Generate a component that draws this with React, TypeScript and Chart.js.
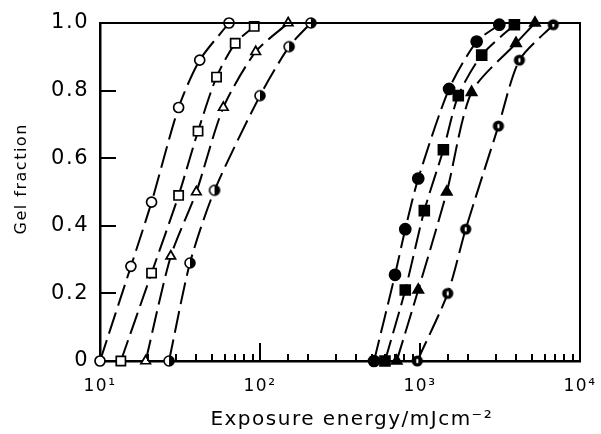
import React, { useEffect, useRef } from "react";
import { Chart, registerables } from "chart.js";

Chart.register(...registerables);

// Exposure energy (mJ cm^-2) and gel fraction for each curve
const energyOpenCircle = [10, 15.6, 21, 31, 42, 64];
const gelOpenCircle = [0, 0.28, 0.47, 0.75, 0.89, 1.0];

const energyOpenSquare = [13.5, 21, 31, 41, 53.5, 70, 92];
const gelOpenSquare = [0, 0.26, 0.49, 0.68, 0.84, 0.94, 0.99];

const energyOpenTriangle = [19.3, 27.7, 40, 59, 94, 150];
const gelOpenTriangle = [0, 0.31, 0.5, 0.75, 0.915, 1.0];

const energyHalfCircleA = [27, 36.5, 52, 100, 152, 208];
const gelHalfCircleA = [0, 0.29, 0.505, 0.785, 0.93, 1.0];

const energyFilledCircle = [516, 698, 809, 975, 1520, 2260, 3130];
const gelFilledCircle = [0, 0.255, 0.39, 0.54, 0.805, 0.945, 0.995];

const energyFilledSquare = [604, 809, 1064, 1400, 1735, 2430, 3890];
const gelFilledSquare = [0, 0.21, 0.445, 0.625, 0.785, 0.905, 0.995];

const energyFilledTriangle = [715, 975, 1470, 2100, 3980, 5230];
const gelFilledTriangle = [0, 0.21, 0.5, 0.795, 0.94, 1.0];

const energyHalfCircleB = [962, 1490, 1930, 3090, 4180, 6810];
const gelHalfCircleB = [0, 0.2, 0.39, 0.695, 0.89, 0.995];

const xMin = 10;
const xMax = 10000;
const yMin = 0;
const yMax = 1;
const yStep = 0.2;
const superscripts = ["⁰", "¹", "²", "³", "⁴"];
const xTitle = "\u00a0\u00a0\u00a0Exposure energy/mJcm⁻²";
const yTitle = "\u00a0\u00a0\u00a0\u00a0Gel fraction";

const FONT = "'DejaVu Sans', sans-serif";

function pts(xs: number[], ys: number[]) {
  return xs.map((x, i) => ({ x, y: ys[i] }));
}

function makeHalfCircle(): HTMLCanvasElement {
  const c = document.createElement("canvas");
  c.width = 14;
  c.height = 14;
  const g = c.getContext("2d")!;
  g.fillStyle = "#fff";
  g.beginPath();
  g.arc(7, 7, 5, 0, Math.PI * 2);
  g.fill();
  g.fillStyle = "#000";
  g.beginPath();
  g.arc(7, 7, 5, -Math.PI / 2, Math.PI / 2);
  g.closePath();
  g.fill();
  g.strokeStyle = "#000";
  g.lineWidth = 1.6;
  g.beginPath();
  g.arc(7, 7, 5, 0, Math.PI * 2);
  g.stroke();
  return c;
}

function makeSlitCircle(): HTMLCanvasElement {
  const c = document.createElement("canvas");
  c.width = 14;
  c.height = 14;
  const g = c.getContext("2d")!;
  g.fillStyle = "#000";
  g.beginPath();
  g.arc(7, 7, 5.6, 0, Math.PI * 2);
  g.fill();
  g.fillStyle = "#fff";
  g.beginPath();
  g.ellipse(7, 7, 1.1, 2.6, 0, 0, Math.PI * 2);
  g.fill();
  return c;
}

function drawFrameAndTicks(chart: any) {
  const ctx: CanvasRenderingContext2D = chart.ctx;
  const xs = chart.scales.x;
  const ys = chart.scales.y;
  const L = Math.round(xs.getPixelForValue(xMin));
  const R = Math.round(xs.getPixelForValue(xMax));
  const T = Math.round(ys.getPixelForValue(yMax));
  const B = Math.round(ys.getPixelForValue(yMin));
  ctx.save();
  ctx.fillStyle = "#000";
  // top and right frame
  ctx.fillRect(L, T - 1, R - L + 1, 2);
  ctx.fillRect(R - 1, T - 1, 2, B - T + 2);
  // inward y ticks
  for (const t of ys.ticks) {
    const v = t.value;
    if (v <= yMin + 1e-9 || v >= yMax - 1e-9) continue;
    const py = Math.round(ys.getPixelForValue(v));
    ctx.fillRect(L, py - 1, 16, 2);
  }
  // inward x ticks
  for (const t of xs.ticks) {
    const v = t.value;
    if (v <= xMin || v >= xMax) continue;
    const l = Math.log10(v);
    const major = Math.abs(l - Math.round(l)) < 1e-9;
    const px = Math.round(xs.getPixelForValue(v));
    const len = major ? 18 : 7;
    ctx.fillRect(px - 1, B - len, 2, len);
  }
  ctx.restore();
}

const framePlugin = {
  id: "frameTicks",
  beforeUpdate(chart: any) {
    chart.ctx.letterSpacing = "1.5px";
  },
  afterDraw(chart: any) {
    drawFrameAndTicks(chart);
  },
};

export default function App() {
  const ref = useRef<HTMLCanvasElement>(null);

  useEffect(() => {
    if (!ref.current) return;
    const half = makeHalfCircle();
    const slit = makeSlitCircle();
    const base = {
      borderColor: "#000",
      borderWidth: 2,
      borderDash: [22, 7],
      tension: 0.25,
      pointBorderColor: "#000",
      pointBorderWidth: 1.7,
      clip: false as const,
      fill: false,
    };
    const chart = new Chart(ref.current, {
      type: "line",
      data: {
        datasets: [
          { ...base, label: "A", data: pts(energyOpenCircle, gelOpenCircle), pointStyle: "circle", pointRadius: 5, pointBackgroundColor: "#fff" },
          { ...base, label: "B", data: pts(energyOpenSquare, gelOpenSquare), pointStyle: "rect", pointRadius: 6.5, pointBackgroundColor: "#fff" },
          { ...base, label: "C", data: pts(energyOpenTriangle, gelOpenTriangle), pointStyle: "triangle", pointRadius: 5.5, pointBackgroundColor: "#fff" },
          { ...base, label: "D", data: pts(energyHalfCircleA, gelHalfCircleA), pointStyle: half, pointRadius: 6 },
          { ...base, label: "E", data: pts(energyFilledCircle, gelFilledCircle), pointStyle: "circle", pointRadius: 5.5, pointBackgroundColor: "#000" },
          { ...base, label: "F", data: pts(energyFilledSquare, gelFilledSquare), pointStyle: "rect", pointRadius: 7, pointBackgroundColor: "#000" },
          { ...base, label: "G", data: pts(energyFilledTriangle, gelFilledTriangle), pointStyle: "triangle", pointRadius: 6, pointBackgroundColor: "#000" },
          { ...base, label: "H", data: pts(energyHalfCircleB, gelHalfCircleB), pointStyle: slit, pointRadius: 6 },
        ],
      },
      options: {
        responsive: false,
        animation: false,
        events: [],
        layout: { padding: { top: 23, right: 21, left: 0, bottom: 0 } },
        plugins: { legend: { display: false }, tooltip: { enabled: false } },
        scales: {
          x: {
            type: "logarithmic",
            position: "bottom",
            min: xMin,
            max: xMax,
            grid: { display: false, drawTicks: false },
            border: { display: true, color: "#000", width: 2.5 },
            ticks: {
              autoSkip: false,
              maxRotation: 0,
              minRotation: 0,
              padding: 15,
              color: "#000",
              font: { family: FONT, size: 17 },
              callback: (value: any) => {
                const l = Math.log10(Number(value));
                if (Math.abs(l - Math.round(l)) < 1e-9) return "10" + superscripts[Math.round(l)];
                return "";
              },
            },
            title: {
              display: true,
              text: xTitle,
              color: "#000",
              font: { family: FONT, size: 20 },
              padding: { top: 0, bottom: 2 },
            },
            afterFit: (scale: any) => {
              scale.height = 73;
              scale.paddingLeft = 0;
              scale.paddingRight = 0;
            },
          },
          y: {
            type: "linear",
            min: yMin,
            max: yMax,
            grid: { display: false, drawTicks: false },
            border: { display: true, color: "#000", width: 2.5 },
            ticks: {
              stepSize: yStep,
              padding: 11,
              color: "#000",
              font: { family: FONT, size: 21 },
              callback: (value: any) => (Number(value) === 0 ? "0" : Number(value).toFixed(1)),
            },
            title: {
              display: true,
              text: yTitle,
              color: "#000",
              font: { family: FONT, size: 16 },
              padding: { top: 12, bottom: 0 },
            },
            afterFit: (scale: any) => {
              scale.width = 100;
              scale.paddingTop = 0;
              scale.paddingBottom = 0;
            },
          },
        },
      },
      plugins: [framePlugin],
    });
    return () => chart.destroy();
  }, []);

  return (
    <div style={{ position: "fixed", left: 0, top: 0, width: 601, height: 434, background: "#fff" }}>
      <canvas ref={ref} width={601} height={434} />
    </div>
  );
}
